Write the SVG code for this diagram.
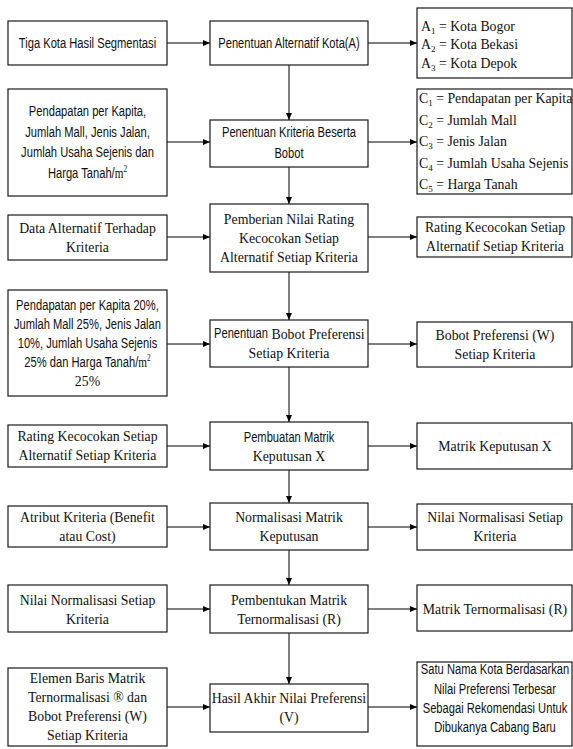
<svg xmlns="http://www.w3.org/2000/svg" width="573" height="749" viewBox="0 0 573 749">
<defs>
<marker id="ah" markerUnits="userSpaceOnUse" markerWidth="8" markerHeight="7" refX="7" refY="3" orient="auto"><path d="M0,0 L7,3 L0,6 z" fill="#000"/></marker>
<style>
rect{fill:#fff;stroke:#1a1a1a;stroke-width:1.2}
.c line{stroke:#000;stroke-width:1;marker-end:url(#ah)}
text{fill:#111}
.s{font-family:"Liberation Sans Narrow","Liberation Sans",Arial,sans-serif;font-size:14.5px;text-anchor:middle}
.sl{font-family:"Liberation Sans Narrow","Liberation Sans",Arial,sans-serif;font-size:14.5px}
.t{font-family:"Liberation Serif","Times New Roman",serif;font-size:13.8px;text-anchor:middle}
.tl{font-family:"Liberation Serif","Times New Roman",serif;font-size:13.8px}
.ts{font-family:"Liberation Serif","Times New Roman",serif}
.sub{font-size:9px}
.sup{font-size:9.5px}
</style>
</defs>
<g id="connectors" class="c">
<line x1="167" y1="43" x2="210" y2="43"/>
<line x1="368" y1="43" x2="417" y2="43"/>
<line x1="289" y1="65" x2="289" y2="120"/>
<line x1="167" y1="142" x2="210" y2="142"/>
<line x1="368" y1="142" x2="417" y2="142"/>
<line x1="289" y1="167" x2="289" y2="204"/>
<line x1="167" y1="237" x2="210" y2="237"/>
<line x1="368" y1="237" x2="417" y2="237"/>
<line x1="289" y1="272" x2="289" y2="320"/>
<line x1="167" y1="344" x2="210" y2="344"/>
<line x1="368" y1="344" x2="417" y2="344"/>
<line x1="289" y1="367" x2="289" y2="422"/>
<line x1="167" y1="446" x2="210" y2="446"/>
<line x1="368" y1="446" x2="417" y2="446"/>
<line x1="289" y1="470" x2="289" y2="503"/>
<line x1="167" y1="527" x2="210" y2="527"/>
<line x1="368" y1="527" x2="417" y2="527"/>
<line x1="289" y1="550" x2="289" y2="585"/>
<line x1="167" y1="609" x2="210" y2="609"/>
<line x1="368" y1="609" x2="417" y2="609"/>
<line x1="289" y1="633" x2="289" y2="684"/>
<line x1="167" y1="707" x2="210" y2="707"/>
<line x1="368" y1="707" x2="417" y2="707"/>
</g>
<g id="n1L"><rect x="8" y="21" width="159" height="44"/><text class="s" transform="scale(0.77 1)" x="113.636" y="48">Tiga Kota Hasil Segmentasi</text></g>
<g id="n1M"><rect x="210" y="21" width="158" height="44"/><text class="s" transform="scale(0.77 1)" x="375.325" y="48">Penentuan Alternatif Kota(A)</text></g>
<g id="n1R"><rect x="417" y="8" width="155" height="70"/>
<text class="tl" x="421" y="30.5">A<tspan class="sub" dy="3">1</tspan><tspan dy="-3"> = Kota Bogor</tspan></text>
<text class="tl" x="421" y="49">A<tspan class="sub" dy="3">2</tspan><tspan dy="-3"> = Kota Bekasi</tspan></text>
<text class="tl" x="421" y="67.5">A<tspan class="sub" dy="3">3</tspan><tspan dy="-3"> = Kota Depok</tspan></text></g>
<g id="n2L"><rect x="8" y="89" width="159" height="107"/>
<text class="s" transform="scale(0.77 1)" x="113.636" y="116.5">Pendapatan per Kapita,</text>
<text class="s" transform="scale(0.77 1)" x="113.636" y="137">Jumlah Mall, Jenis Jalan,</text>
<text class="s" transform="scale(0.77 1)" x="113.636" y="157.5">Jumlah Usaha Sejenis dan</text>
<text class="s" transform="scale(0.77 1)" x="113.636" y="178">Harga Tanah/<tspan class="ts">m</tspan><tspan class="sup ts" dy="-6">2</tspan></text></g>
<g id="n2M"><rect x="210" y="120" width="158" height="47"/>
<text class="s" transform="scale(0.77 1)" x="375.325" y="137.5">Penentuan Kriteria Beserta</text>
<text class="s" transform="scale(0.77 1)" x="375.325" y="158">Bobot</text></g>
<g id="n2R"><rect x="417" y="89" width="155" height="105"/>
<text class="tl" x="419" y="103">C<tspan class="sub" dy="3">1</tspan><tspan dy="-3"> = Pendapatan per Kapita</tspan></text>
<text class="tl" x="419" y="124.5">C<tspan class="sub" dy="3">2</tspan><tspan dy="-3"> = Jumlah Mall</tspan></text>
<text class="tl" x="419" y="146">C<tspan class="sub" dy="3">3</tspan><tspan dy="-3"> = Jenis Jalan</tspan></text>
<text class="tl" x="419" y="167.5">C<tspan class="sub" dy="3">4</tspan><tspan dy="-3"> = Jumlah Usaha Sejenis</tspan></text>
<text class="tl" x="419" y="188.5">C<tspan class="sub" dy="3">5</tspan><tspan dy="-3"> = Harga Tanah</tspan></text></g>
<g id="n3L"><rect x="8" y="215" width="159" height="45"/>
<text class="t" x="87.5" y="232.5">Data Alternatif Terhadap</text>
<text class="t" x="87.5" y="251.5">Kriteria</text></g>
<g id="n3M"><rect x="210" y="204" width="158" height="68"/>
<text class="t" x="289" y="223.5">Pemberian Nilai Rating</text>
<text class="t" x="289" y="242.5">Kecocokan Setiap</text>
<text class="t" x="289" y="261.5">Alternatif Setiap Kriteria</text></g>
<g id="n3R"><rect x="417" y="217" width="155" height="40"/>
<text class="t" x="495" y="232">Rating Kecocokan Setiap</text>
<text class="t" x="495" y="251">Alternatif Setiap Kriteria</text></g>
<g id="n4L"><rect x="8" y="290" width="159" height="106"/>
<text class="s" transform="scale(0.77 1)" x="113.636" y="309.6">Pendapatan per Kapita 20%,</text>
<text class="s" transform="scale(0.77 1)" x="113.636" y="328.6">Jumlah Mall 25%, Jenis Jalan</text>
<text class="s" transform="scale(0.77 1)" x="113.636" y="347.6">10%, Jumlah Usaha Sejenis</text>
<text class="s" transform="scale(0.77 1)" x="113.636" y="366.6">25% dan Harga Tanah/<tspan class="ts">m</tspan><tspan class="sup ts" dy="-6">2</tspan></text>
<text class="t" x="87.5" y="385.6">25%</text></g>
<g id="n4M"><rect x="210" y="320" width="158" height="47"/>
<text class="sl" transform="scale(0.77 1)" x="277.922" y="338.5">Penentuan</text>
<text class="tl" x="271.5" y="338.5">Bobot Preferensi</text>
<text class="t" x="289" y="358">Setiap Kriteria</text></g>
<g id="n4R"><rect x="417" y="322" width="155" height="45"/>
<text class="t" x="495" y="339.5">Bobot Preferensi (W)</text>
<text class="t" x="495" y="359">Setiap Kriteria</text></g>
<g id="n5L"><rect x="8" y="425" width="159" height="42"/>
<text class="t" x="87.5" y="441">Rating Kecocokan Setiap</text>
<text class="t" x="87.5" y="460">Alternatif Setiap Kriteria</text></g>
<g id="n5M"><rect x="210" y="422" width="158" height="48"/>
<text class="s" transform="scale(0.77 1)" x="375.325" y="442">Pembuatan Matrik</text>
<text class="t" x="289" y="460.5">Keputusan X</text></g>
<g id="n5R"><rect x="417" y="423" width="155" height="46"/>
<text class="t" x="495" y="450.6">Matrik Keputusan X</text></g>
<g id="n6L"><rect x="8" y="506" width="159" height="41"/>
<text class="t" x="87.5" y="521.6">Atribut Kriteria (Benefit</text>
<text class="t" x="87.5" y="541">atau Cost)</text></g>
<g id="n6M"><rect x="210" y="503" width="158" height="47"/>
<text class="t" x="289" y="521.6">Normalisasi Matrik</text>
<text class="t" x="289" y="541">Keputusan</text></g>
<g id="n6R"><rect x="417" y="504" width="155" height="46"/>
<text class="t" x="495" y="521.8">Nilai Normalisasi Setiap</text>
<text class="t" x="495" y="540.6">Kriteria</text></g>
<g id="n7L"><rect x="8" y="585" width="159" height="47"/>
<text class="t" x="87.5" y="604.6">Nilai Normalisasi Setiap</text>
<text class="t" x="87.5" y="624">Kriteria</text></g>
<g id="n7M"><rect x="210" y="585" width="158" height="48"/>
<text class="t" x="289" y="604.6">Pembentukan Matrik</text>
<text class="t" x="289" y="624">Ternormalisasi (R)</text></g>
<g id="n7R"><rect x="417" y="585" width="155" height="46"/>
<text class="t" x="495" y="613.6">Matrik Ternormalisasi (R)</text></g>
<g id="n8L"><rect x="8" y="668" width="159" height="78"/>
<text class="t" x="87.5" y="683.1">Elemen Baris Matrik</text>
<text class="t" x="87.5" y="702.1">Ternormalisasi ® dan</text>
<text class="t" x="87.5" y="721.1">Bobot Preferensi (W)</text>
<text class="t" x="87.5" y="740.1">Setiap Kriteria</text></g>
<g id="n8M"><rect x="210" y="684" width="158" height="48"/>
<text class="t" x="289" y="702.6">Hasil Akhir Nilai Preferensi</text>
<text class="t" x="289" y="722">(V)</text></g>
<g id="n8R"><rect x="417" y="662" width="155" height="84"/>
<text class="s" transform="scale(0.77 1)" x="642.857" y="674.5">Satu Nama Kota Berdasarkan</text>
<text class="s" transform="scale(0.77 1)" x="642.857" y="694">Nilai Preferensi Terbesar</text>
<text class="s" transform="scale(0.77 1)" x="642.857" y="713.3">Sebagai Rekomendasi Untuk</text>
<text class="s" transform="scale(0.77 1)" x="642.857" y="732">Dibukanya Cabang Baru</text></g>
</svg>
